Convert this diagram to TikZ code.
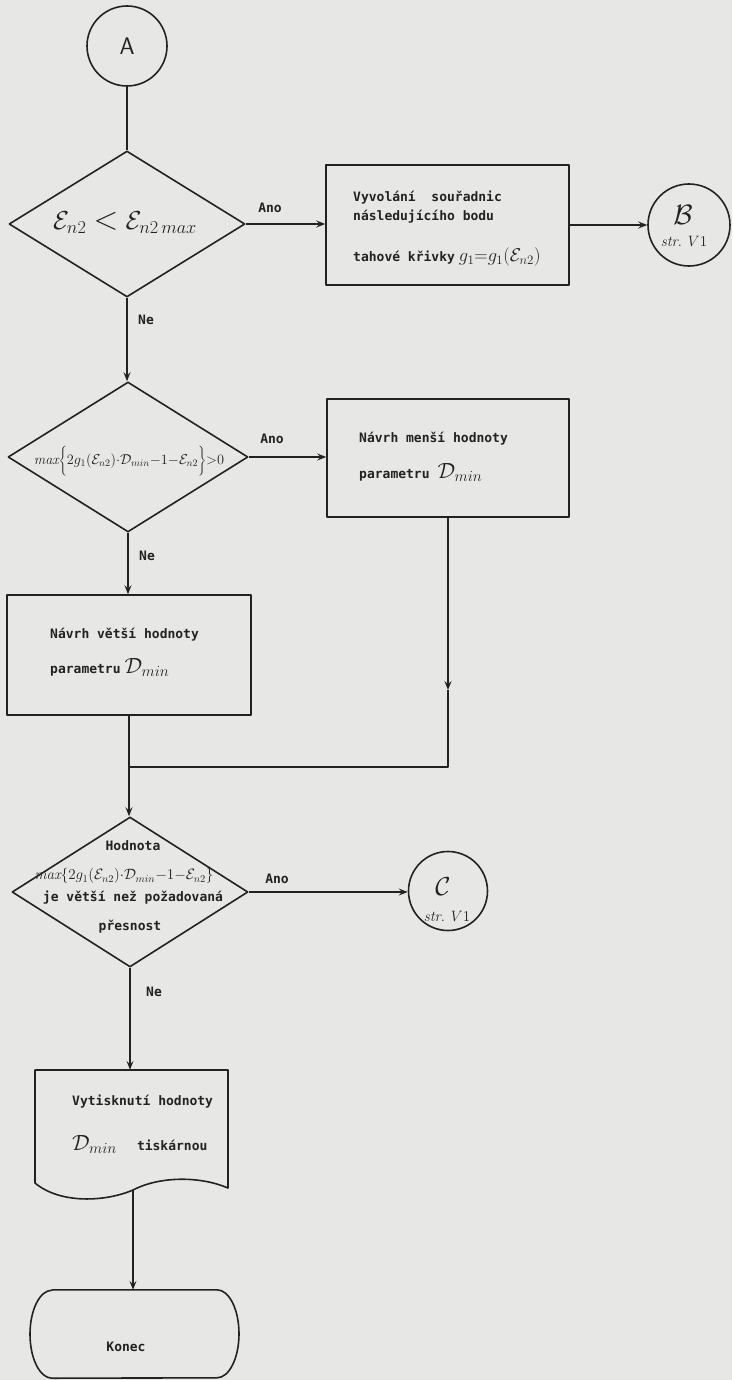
\RequirePackage{fix-cm}
\documentclass[tikz,border=0pt]{standalone}
\usepackage{fontspec}
\usetikzlibrary{shapes.geometric,arrows.meta}
\newfontfamily\plotfont{DejaVu Sans Mono}
\definecolor{paper}{HTML}{E7E7E5}
\definecolor{ink}{HTML}{222222}

\tikzset{
  flowline/.style={draw=ink, line width=1.6pt, line join=round},
  arr/.style={flowline, -{Stealth[length=9pt,width=7pt,inset=3.5pt]}},
  procbox/.style={flowline, rectangle, inner sep=0pt, minimum width=243pt, minimum height=120pt},
  decision/.style={flowline, diamond, inner sep=0pt, minimum width=236pt, minimum height=148pt},
  connector/.style={flowline, circle, inner sep=0pt, minimum size=80pt},
  shapearea/.style={rectangle, draw=none, inner sep=0pt},
  txt/.style={font=\plotfont\bfseries\fontsize{13pt}{15pt}\selectfont, text=ink, inner sep=0pt,
              text height=9.5pt, text depth=2.5pt},
  ltxt/.style={txt, anchor=west},
  mathtxt/.style={text=ink, inner sep=0pt},
}
\newcommand{\Dmin}{{\fontsize{22pt}{22pt}\selectfont$\mathcal{D}_{min}$}}
\newcommand{\maxterm}[1]{\mathit{max}#1\{2g_1(\mathcal{E}_{n2}){\cdot}\mathcal{D}_{min}{-}1{-}\mathcal{E}_{n2}#1\}}

\begin{document}
\begin{tikzpicture}[x=1pt,y=-1pt]
  \fill[paper] (0,0) rectangle (732,1380);
  \useasboundingbox (0,0) rectangle (732,1380);

  % ---- shapes ----
  \node[connector, font=\sffamily\fontsize{24pt}{24pt}\selectfont, text=ink] (A) at (127,46) {A};
  \node[decision, minimum width=236pt, minimum height=146pt] (d1) at (127,224) {};
  \node[procbox] (b1) at (447.5,225) {};
  \node[connector, minimum size=82pt] (B) at (689,225) {};
  \node[decision, minimum width=240pt, minimum height=150pt] (d2) at (128,457) {};
  \node[procbox, minimum width=242pt, minimum height=118pt] (b2) at (448,458) {};
  \node[procbox, minimum width=244pt] (b3) at (129,655) {};
  \node[decision, minimum width=236pt, minimum height=150pt] (d3) at (130,892) {};
  \node[connector, minimum size=79pt] (C) at (448,891) {};
  \node[shapearea, minimum width=193pt, minimum height=118pt] (doc) at (131.5,1129) {};
  \node[shapearea, minimum width=209pt, minimum height=88pt] (term) at (134.5,1334) {};

  % printed document outline with wavy lower edge
  \begin{scope}[shift={(doc.center)}]
    \draw[flowline] (-96.5,54) -- (-96.5,-59) -- (96.5,-59) -- (96.5,59)
      .. controls (68.5,47) and (28.5,47) .. (1.5,61)
      .. controls (-26.5,73) and (-71.5,75) .. (-96.5,54) -- cycle;
    \coordinate (docout) at (1.5,61);
  \end{scope}

  % terminal outline with elliptic ends
  \draw[flowline] ([xshift=-82.5pt]term.north) -- ([xshift=82.5pt]term.north)
    arc[start angle=90, end angle=-90, x radius=22pt, y radius=44pt]
    -- ([xshift=-82.5pt]term.south)
    arc[start angle=270, end angle=90, x radius=22pt, y radius=44pt] -- cycle;

  % ---- texts ----
  \node[mathtxt, font=\fontsize{26pt}{26pt}\selectfont] (d1t) at (125,223)
    {$\mathcal{E}_{n2} \mathrel{\scalebox{1.25}{$<$}} \mathcal{E}_{n2\,max}$};

  \node[ltxt] (b1t1) at (353,198) {Vyvolání\ \ souřadnic};
  \node[ltxt] (b1t2) at (353,217) {následujícího bodu};
  \node[ltxt] (b1t3) at (353,258) {tahové křivky\hspace{4pt}{\fontsize{18.5pt}{18.5pt}\selectfont$g_1{=}g_1(\mathcal{E}_{n2})$}};

  \node[mathtxt, font=\fontsize{28pt}{28pt}\selectfont] (Bl) at (683,215) {$\mathcal{B}$};
  \node[mathtxt, font=\fontsize{15pt}{15pt}\selectfont] (Bs) at (684,241) {$\mathit{str.}\hspace{6pt}V1$};

  \node[mathtxt, font=\fontsize{14.3pt}{14.3pt}\selectfont] (d2t) at (129,461) {$\maxterm{\Biggl}{>}0$};

  \node[ltxt] (b2t1) at (359,439) {Návrh menší hodnoty};
  \node[ltxt] (b2t2) at (359,475) {parametru\hspace{8pt}\Dmin};

  \node[ltxt] (b3t1) at (50,635) {Návrh větší hodnoty};
  \node[ltxt] (b3t2) at (50,670) {parametru\hspace{4pt}\Dmin};

  \node[txt] (d3t1) at (133,847) {Hodnota};
  \node[mathtxt, font=\fontsize{15pt}{15pt}\selectfont] (d3t2) at (124,876) {$\maxterm{\Bigl}$};
  \node[txt] (d3t3) at (133,898) {je větší než požadovaná};
  \node[txt] (d3t4) at (130,927) {přesnost};

  \node[mathtxt, font=\fontsize{26pt}{26pt}\selectfont] (Cl) at (443,887) {$\mathcal{C}$};
  \node[mathtxt, font=\fontsize{15pt}{15pt}\selectfont] (Cs) at (447,916) {$\mathit{str.}\hspace{6pt}V1$};

  \node[ltxt] (dt1) at (72,1102) {Vytisknutí hodnoty};
  \node[ltxt] (dt2) at (72,1147) {\Dmin\hspace{20pt}tiskárnou};

  \node[txt] (kt) at (126,1348) {Konec};

  % ---- branch labels ----
  \node[txt] (y1) at (270,209) {Ano};
  \node[txt] (n1) at (146,321) {Ne};
  \node[txt] (y2) at (272,440) {Ano};
  \node[txt] (n2) at (147,557) {Ne};
  \node[txt] (y3) at (277,880) {Ano};
  \node[txt] (n3) at (154,993) {Ne};

  % ---- connectors ----
  \draw[flowline] (A.south) -- (A.south |- d1.north);
  \draw[arr] (d1.east) -- (d1.east -| b1.west);
  \draw[arr] (b1.east) -- (b1.east -| B.west);
  \draw[arr] (d1.south) -- (d1.south |- d2.north);
  \draw[arr] (d2.east) -- (d2.east -| b2.west);
  \draw[arr] (d2.south) -- (d2.south |- b3.north);

  \coordinate (j) at (b3.south |- 0,767);
  \coordinate (rc) at (b2.south |- 0,767);
  \coordinate (rmid) at (b2.south |- 0,690);
  \draw[arr] (b2.south) -- (rmid);
  \draw[flowline] (rmid) -- (rc) -- (j);
  \draw[flowline] (b3.south) -- (j);
  \draw[arr] (j) -- (j |- d3.north);

  \draw[arr] (d3.east) -- (d3.east -| C.west);
  \draw[arr] (d3.south) -- (d3.south |- doc.north);
  \draw[arr] (docout) -- (docout |- term.north);
\end{tikzpicture}
\end{document}
